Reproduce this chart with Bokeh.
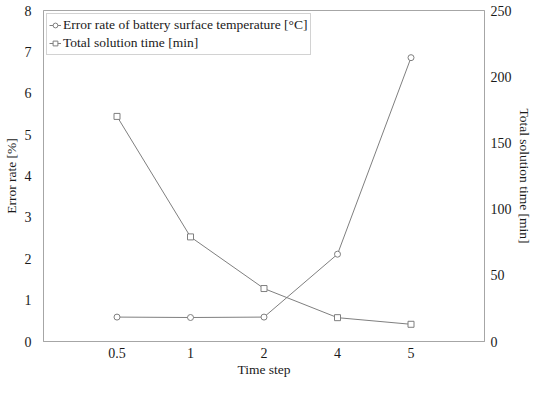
from bokeh.plotting import figure
from bokeh.models import Range1d, LinearAxis, FixedTicker, SingleIntervalTicker
from bokeh.embed import file_html
from bokeh.resources import INLINE

time_steps = ["0.5", "1", "2", "4", "5"]
error_rate = [0.59, 0.58, 0.59, 2.11, 6.86]
solution_time = [170, 79, 40, 18, 13]

FONT = "Liberation Serif"
GRAY = "#7f7f7f"
FRAME = "#a6a6a6"

xs = list(range(len(time_steps)))

p = figure(width=534, height=379, output_backend="svg", toolbar_location=None,
           x_range=Range1d(-1, len(time_steps)), y_range=Range1d(0, 8),
           min_border_left=0, min_border_right=0, min_border_top=10, min_border_bottom=0)
p.extra_y_ranges = {"time": Range1d(0, 250)}

p.xgrid.visible = False
p.ygrid.visible = False
p.outline_line_color = FRAME
p.outline_line_width = 1

# time series (right axis)
p.line(xs, solution_time, y_range_name="time", line_color=GRAY, line_width=1,
       legend_label="Total solution time [min]")
p.scatter(xs, solution_time, y_range_name="time", marker="square", size=6,
          line_color=GRAY, fill_color="white", line_width=1,
          legend_label="Total solution time [min]")

# error rate (left axis)
p.line(xs, error_rate, line_color=GRAY, line_width=1,
       legend_label="Error rate of battery surface temperature [°C]")
p.scatter(xs, error_rate, marker="circle", size=6, line_color=GRAY,
          fill_color="white", line_width=1,
          legend_label="Error rate of battery surface temperature [°C]")

# axes
xa = p.xaxis[0]
xa.ticker = FixedTicker(ticks=xs)
xa.major_label_overrides = {i: t for i, t in enumerate(time_steps)}
xa.axis_label = "Time step"

ya = p.yaxis[0]
ya.ticker = SingleIntervalTicker(interval=1)
ya.axis_label = "Error rate [%]"

ra = LinearAxis(y_range_name="time", axis_label="Total solution time [min]",
                ticker=SingleIntervalTicker(interval=50))
p.add_layout(ra, "right")

for ax in [xa, ya, ra]:
    ax.axis_line_color = FRAME
    ax.major_tick_line_color = None
    ax.minor_tick_line_color = None
    ax.major_tick_out = 0
    ax.major_tick_in = 0
    ax.minor_tick_out = 0
    ax.minor_tick_in = 0
    ax.major_label_text_font = FONT
    ax.major_label_text_font_size = "14px"
    ax.major_label_text_color = "#1a1a1a"
    ax.axis_label_text_font = FONT
    ax.axis_label_text_font_size = "13.5px"
    ax.axis_label_text_font_style = "normal"
    ax.axis_label_text_color = "#1a1a1a"

xa.major_label_standoff = 6
xa.axis_label_standoff = 1
ya.major_label_standoff = 12
ya.axis_label_standoff = 3
ra.major_label_standoff = 6
ra.axis_label_standoff = 2

# legend order: error rate first
leg = p.legend[0]
leg.items = [leg.items[1], leg.items[0]]
leg.location = "top_left"
leg.label_text_font = FONT
leg.label_text_font_size = "13.5px"
leg.label_text_color = "#1a1a1a"
leg.border_line_color = FRAME
leg.background_fill_alpha = 1
leg.margin = 3
leg.padding = 2
leg.spacing = 0
leg.glyph_width = 12
leg.glyph_height = 18
leg.label_height = 18
leg.label_standoff = 2

open("out.html", "w").write(file_html(p, INLINE))
